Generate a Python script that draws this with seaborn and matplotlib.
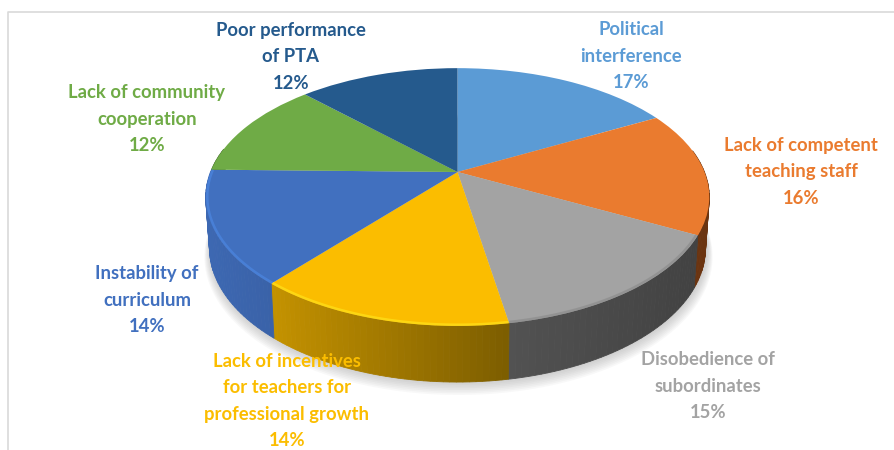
import numpy as np
import matplotlib
matplotlib.use("Agg")
import matplotlib.pyplot as plt
from matplotlib.path import Path
from matplotlib.transforms import Transform
import seaborn as sns

categories = ["Political\ninterference", "Lack of competent\nteaching staff",
              "Disobedience of\nsubordinates",
              "Lack of incentives\nfor teachers for\nprofessional growth",
              "Instability of\ncurriculum", "Lack of community\ncooperation",
              "Poor performance\nof PTA"]
values = [17.1, 15.6, 14.6, 13.8, 14.2, 12.3, 12.4]
colors = ["#5B9BD5", "#EA7B2F", "#A3A3A3", "#FBBD00", "#4170BF", "#6FAB46", "#255A8D"]
side_left = ["#3E6F9E", "#6B3410", "#525252", "#C49200", "#3D68B2", "#4A7530", "#1A3F63"]
side_right = ["#3E6F9E", "#6B3410", "#424242", "#7C5D00", "#3A62A8", "#4A7530", "#1A3F63"]
rim = [None, None, "#8C8C8C", "#FFE11A", "#4C86E0", None, None]
label_xy = [(631, 56), (801, 172), (708, 386), (287, 401), (147, 300), (147, 119), (291, 57)]

CX, CY, A, B, K = 457.5, 172.0, 247.0, 124.0, 0.194


class Persp(Transform):
    input_dims = output_dims = 2
    has_inverse = False
    is_affine = False

    def __init__(self, cx, cy, a, b, k):
        super().__init__()
        self.p = (cx, cy, a, b, k)

    def transform_non_affine(self, v):
        cx, cy, a, b, k = self.p
        v = np.asarray(v, float)
        w = 1 + k * v[:, 1]
        return np.column_stack([cx + a * v[:, 0] / w, cy - b * v[:, 1] / w])

    def transform_path_non_affine(self, path):
        return Path(self.transform_non_affine(path.vertices), path.codes)


sns.set_theme(style="white")
plt.rcParams["font.family"] = ["Lato", "DejaVu Sans"]
fig = plt.figure(figsize=(8.94, 4.5), dpi=100, facecolor="white")
ax = fig.add_axes([0, 0, 1, 1])

top = Persp(CX, CY, A, B, K)
bot = Persp(CX, 222.0, A * 0.985, 129.0, K)

wedges, _ = ax.pie(values, colors=colors, startangle=90, counterclock=False,
                   wedgeprops=dict(linewidth=0, zorder=5))
for w in wedges:
    w.set_transform(top + ax.transData)
ax.set_aspect("auto")
ax.set_xlim(0, 894)
ax.set_ylim(450, 0)
ax.axis("off")

# chart frame
ax.plot([8, 8, 894], [450, 12, 12], color="#D9D9D9", lw=1.2, zorder=1)

# soft shadow under the pie
t = np.linspace(0, 2 * np.pi, 240)
circle = np.column_stack([np.cos(t), np.sin(t)])
for g in np.linspace(10, 1, 8):
    pts = Persp(CX + 1, 222.0 + g * 0.8, A * 0.985 + g * 0.6, 129.0 + g * 0.4, K).transform_non_affine(circle)
    ax.fill(pts[:, 0], pts[:, 1], color="#808080", alpha=0.05, lw=0, zorder=2)

# extruded wall and rim highlight
edges = np.cumsum([0] + values) / sum(values)
for i in range(len(values)):
    th = np.pi / 2 - 2 * np.pi * np.linspace(edges[i], edges[i + 1], 41)
    ring = np.column_stack([np.cos(th), np.sin(th)])
    p_top = top.transform_non_affine(ring)
    p_bot = bot.transform_non_affine(ring)
    c0 = np.array(matplotlib.colors.to_rgb(side_left[i]))
    c1 = np.array(matplotlib.colors.to_rgb(side_right[i]))
    front = ring[:, 1] < 0.2
    xs = p_top[front, 0]
    for j in range(len(th) - 1):
        if not (front[j] and front[j + 1]):
            continue
        f = (0.5 * (p_top[j, 0] + p_top[j + 1, 0]) - xs.min()) / max(xs.max() - xs.min(), 1)
        col = c0 + (c1 - c0) * f
        ax.fill([p_top[j, 0], p_top[j + 1, 0], p_bot[j + 1, 0], p_bot[j, 0]],
                [p_top[j, 1], p_top[j + 1, 1], p_bot[j + 1, 1], p_bot[j, 1]],
                color=col, lw=0.6, zorder=3)
    if rim[i]:
        inner = top.transform_non_affine(ring[front] * 0.994)
        ax.plot(inner[:, 0], inner[:, 1], color=rim[i], lw=1.8, alpha=0.7,
                zorder=6, solid_capstyle="butt")

# data labels
for name, val, col, (x, y) in zip(categories, values, colors, label_xy):
    ax.text(x, y, f"{name}\n{val:.0f}%", color=col, ha="center", va="center",
            fontsize=13.3, fontweight="bold", linespacing=1.65, zorder=10)

fig.savefig("out.png", dpi=100)
